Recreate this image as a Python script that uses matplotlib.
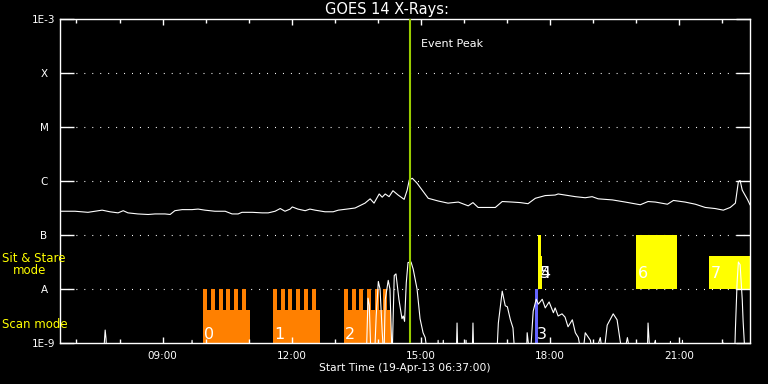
import matplotlib
matplotlib.use("Agg")
import matplotlib.pyplot as plt
from matplotlib.ticker import FixedLocator, NullLocator

plt.rcParams['font.family'] = ['DejaVu Sans']
plt.rcParams['lines.scale_dashes'] = False

START = 6 + 37 / 60   # 06:37 UT, x axis is hours after start
T_END = 16.04

# GOES 1-8 A channel: hours after start, log10 flux
long_t = [0.02, 0.35, 0.65, 0.98, 1.16, 1.35, 1.47, 1.58, 1.81, 2.05, 2.21, 2.44, 2.56, 2.67,
          2.84, 3.07, 3.21, 3.37, 3.60, 3.84, 4.00, 4.14, 4.23, 4.47, 4.70, 4.84, 5.00, 5.12,
          5.23, 5.35, 5.40, 5.53, 5.70, 5.81, 5.93, 6.16, 6.35, 6.47, 6.67, 6.86, 7.09, 7.21,
          7.30, 7.42, 7.49, 7.56, 7.65, 7.74, 7.86, 8.00, 8.07, 8.12, 8.19, 8.30, 8.42, 8.56,
          8.79, 9.02, 9.26, 9.49, 9.60, 9.72, 9.88, 10.12, 10.28, 10.51, 10.70, 10.88, 11.05,
          11.28, 11.51, 11.58, 11.74, 11.98, 12.21, 12.37, 12.51, 12.84, 13.14, 13.49, 13.67,
          13.84, 14.12, 14.26, 14.53, 14.77, 15.00, 15.23, 15.42, 15.58, 15.70, 15.77, 15.81,
          15.86, 15.98, 16.04]
long_logf = [-6.56, -6.56, -6.58, -6.54, -6.57, -6.59, -6.55, -6.59, -6.61, -6.62, -6.61, -6.61,
             -6.62, -6.55, -6.53, -6.53, -6.52, -6.54, -6.56, -6.56, -6.61, -6.61, -6.58, -6.58,
             -6.59, -6.59, -6.56, -6.51, -6.56, -6.52, -6.48, -6.52, -6.55, -6.52, -6.54, -6.57,
             -6.57, -6.54, -6.52, -6.50, -6.41, -6.33, -6.41, -6.24, -6.30, -6.24, -6.29, -6.18,
             -6.26, -6.34, -6.17, -5.98, -5.95, -6.04, -6.17, -6.32, -6.37, -6.41, -6.39, -6.46,
             -6.40, -6.49, -6.49, -6.49, -6.38, -6.39, -6.40, -6.42, -6.32, -6.27, -6.26, -6.24,
             -6.26, -6.29, -6.31, -6.29, -6.33, -6.35, -6.39, -6.44, -6.38, -6.39, -6.43, -6.36,
             -6.39, -6.43, -6.49, -6.51, -6.54, -6.49, -6.41, -6.01, -5.99, -6.17, -6.34, -6.44]

# GOES 0.5-4 A channel (values below 1E-9 fall off the plot)
short_t = [0.00, 1.00, 1.03, 1.05, 1.07, 1.09, 3.04, 3.07, 3.10,
           7.12, 7.16, 7.19, 7.23, 7.31, 7.35, 7.40, 7.44, 7.49, 7.53, 7.56, 7.63, 7.67, 7.72,
           7.77, 7.81, 7.88, 7.95, 7.98, 8.01, 8.05, 8.09, 8.16, 8.21, 8.30, 8.37, 8.44, 8.49,
           8.56, 8.77, 8.79, 8.81, 8.89, 8.91, 8.93, 9.21, 9.23, 9.25, 9.42, 9.44, 9.46, 9.58,
           9.60, 9.62, 10.15, 10.19, 10.28, 10.35, 10.40, 10.47, 10.53, 10.58, 10.84, 10.86,
           10.93, 11.00, 11.07, 11.12, 11.21, 11.28, 11.37, 11.47, 11.51, 11.58, 11.67, 11.74,
           11.81, 11.91, 11.98, 12.05, 12.14, 12.21, 12.33, 12.40, 12.56, 12.63, 12.72, 12.86,
           12.95, 13.02, 13.09, 13.19, 13.28, 13.65, 13.67, 13.72, 13.84, 13.88, 14.17, 14.19,
           14.21, 14.45, 14.47, 14.49, 15.40, 15.42, 15.44, 15.68, 15.70, 15.74, 15.77, 15.81,
           15.86, 15.88, 15.93, 16.04]
short_logf = [-9.3, -9.3, -9.0, -8.76, -8.92, -9.3, -9.3, -8.95, -9.3,
              -9.3, -8.17, -8.30, -9.3, -9.3, -8.5, -7.86, -8.0, -8.8, -9.3, -8.2, -7.84, -8.0, -9.3,
              -7.75, -7.72, -8.2, -8.55, -8.5, -8.6, -7.88, -7.51, -7.50, -7.63, -8.0, -8.55, -8.81,
              -8.9, -9.3, -9.3, -8.95, -9.3, -9.3, -8.95, -9.3, -9.3, -8.63, -9.3, -9.3, -8.95,
              -9.3, -9.3, -8.63, -9.3, -9.3, -8.63, -8.04, -8.31, -8.33, -8.57, -8.72, -9.3, -9.3,
              -8.81, -9.3, -8.41, -8.19, -8.28, -8.19, -8.35, -8.24, -8.44, -8.35, -8.50, -8.46,
              -8.52, -8.70, -8.57, -8.81, -8.90, -9.3, -8.81, -8.95, -9.3, -8.90, -9.3, -8.67,
              -8.46, -8.57, -8.95, -9.3, -8.90, -9.3, -9.3, -8.63, -9.3, -8.95, -9.3, -9.3, -8.97,
              -9.3, -9.3, -8.95, -9.3, -9.3, -9.0, -9.3, -9.3, -8.76, -7.88, -7.50, -7.55, -8.2,
              -8.6, -9.3, -9.3]

# IRIS scan rasters (orange) with their exposure comb
scan_start = [3.33, 4.95, 6.60]
scan_len = 1.09
scan_labels = ['0', '1', '2']
scan_base = -8.39
tooth_offsets = [0.0, 0.18, 0.36, 0.54, 0.72, 0.90]
tooth_w = 0.09

# raster 3 (blue)
blue_start, blue_end, blue_label = 11.05, 11.12, '3'

# sit & stare observations (yellow)
ss_start = [11.12, 11.12, 13.40, 15.09]
ss_end = [11.18, 11.20, 14.35, 16.30]
ss_top = [-7.0, -7.39, -7.0, -7.39]
ss_labels = ['4', '5', '6', '7']
ss_label_t = [11.16, 11.16, 13.43, 15.12]

event_t = 8.14

yticks = [-9, -8, -7, -6, -5, -4, -3]
ylabels = ['1E-9', 'A', 'B', 'C', 'M', 'X', '1E-3']
xmajor_clock = [9, 12, 15, 18, 21]
xmajor_labels = ['09:00', '12:00', '15:00', '18:00', '21:00']
xminor_clock = list(range(7, 23))

ORANGE = '#ff8000'
YELLOW = '#ffff00'
BLUE = '#6464ff'
GREEN = '#99cc00'

W, H = 768, 384
fig = plt.figure(figsize=(W / 100, H / 100), dpi=100, facecolor='black')
ax = fig.add_axes([60 / W, 1 - 343 / H, 690 / W, 324 / H], facecolor='black')
ax.set_yscale('log')
ax.set_xlim(0, T_END)
ax.set_ylim(1e-9, 1e-3)

for lv in yticks[1:-1]:
    ax.axhline(10.0 ** lv, color='white', lw=0.8, linestyle=(0, (0.72, 5.0)), zorder=0.5)

# scan boxes
for s, lab in zip(scan_start, scan_labels):
    ax.bar(s, 10 ** scan_base - 1e-9, width=scan_len, bottom=1e-9, align='edge',
           color=ORANGE, lw=0, zorder=1)
    for off in tooth_offsets:
        ax.bar(s + off, 1e-8 - 1e-9, width=tooth_w, bottom=1e-9, align='edge',
               color=ORANGE, lw=0, zorder=1)
    ax.text(s + 0.02, 10 ** -8.93, lab, color='white', fontsize=11.5, va='baseline',
            ha='left', zorder=3)

ax.bar(blue_start, 1e-8 - 1e-9, width=blue_end - blue_start, bottom=1e-9, align='edge',
       color=BLUE, lw=0, zorder=1)
ax.text(blue_start + 0.04, 10 ** -8.93, blue_label, color='white', fontsize=11.5,
        va='baseline', ha='left', zorder=3)

for s, e, top, lab, lt in zip(ss_start, ss_end, ss_top, ss_labels, ss_label_t):
    ax.bar(s, 10 ** top - 1e-8, width=e - s, bottom=1e-8, align='edge',
           color=YELLOW, lw=0, zorder=1)
    ax.text(lt, 10 ** -7.79, lab, color='white', fontsize=11.5, va='baseline',
            ha='left', zorder=3)

ax.plot(long_t, [10.0 ** v for v in long_logf], color='white', lw=0.8, zorder=2)
ax.plot(short_t, [10.0 ** v for v in short_logf], color='white', lw=0.8, zorder=2)

ax.axvline(event_t, color=GREEN, lw=1.5, zorder=4)
ax.text(event_t + 0.26, 10 ** -3.52, 'Event Peak', color='white', fontsize=8,
        va='baseline', ha='left')

# axes styling
for sp in ax.spines.values():
    sp.set_color('white')
    sp.set_linewidth(1.0)
ax.yaxis.set_major_locator(FixedLocator([10.0 ** v for v in yticks]))
ax.yaxis.set_minor_locator(NullLocator())
ax.set_yticklabels(ylabels)
for lbl in ax.get_yticklabels():
    lbl.set_horizontalalignment('center')
ax.tick_params(axis='y', which='major', direction='in', length=10, width=1,
               colors='white', left=True, right=True, labelsize=7.5, pad=11.5)

ax.xaxis.set_major_locator(FixedLocator([c - START for c in xmajor_clock]))
ax.xaxis.set_minor_locator(FixedLocator([c - START for c in xminor_clock]))
ax.set_xticklabels(xmajor_labels)
ax.tick_params(axis='x', which='major', direction='in', length=4.5, width=1,
               colors='white', top=True, bottom=True, labelsize=7.5, pad=6)
ax.tick_params(axis='x', which='minor', direction='in', length=2.6, width=1,
               colors='white', top=True, bottom=True)

fig.text(387 / W, 1 - 9.5 / H, 'GOES 14 X-Rays:', color='white', fontsize=10.5,
         ha='center', va='center')
fig.text(405 / W, 1 - 368 / H, 'Start Time (19-Apr-13 06:37:00)', color='white',
         fontsize=7.7, ha='center', va='center')
fig.text(2 / W, 1 - 259 / H, 'Sit & Stare', color=YELLOW, fontsize=8.5, ha='left', va='center')
fig.text(13 / W, 1 - 271 / H, 'mode', color=YELLOW, fontsize=8.5, ha='left', va='center')
fig.text(2 / W, 1 - 324 / H, 'Scan mode', color=YELLOW, fontsize=8.5, ha='left', va='center')

fig.savefig('out.png', dpi=100, facecolor='black')
